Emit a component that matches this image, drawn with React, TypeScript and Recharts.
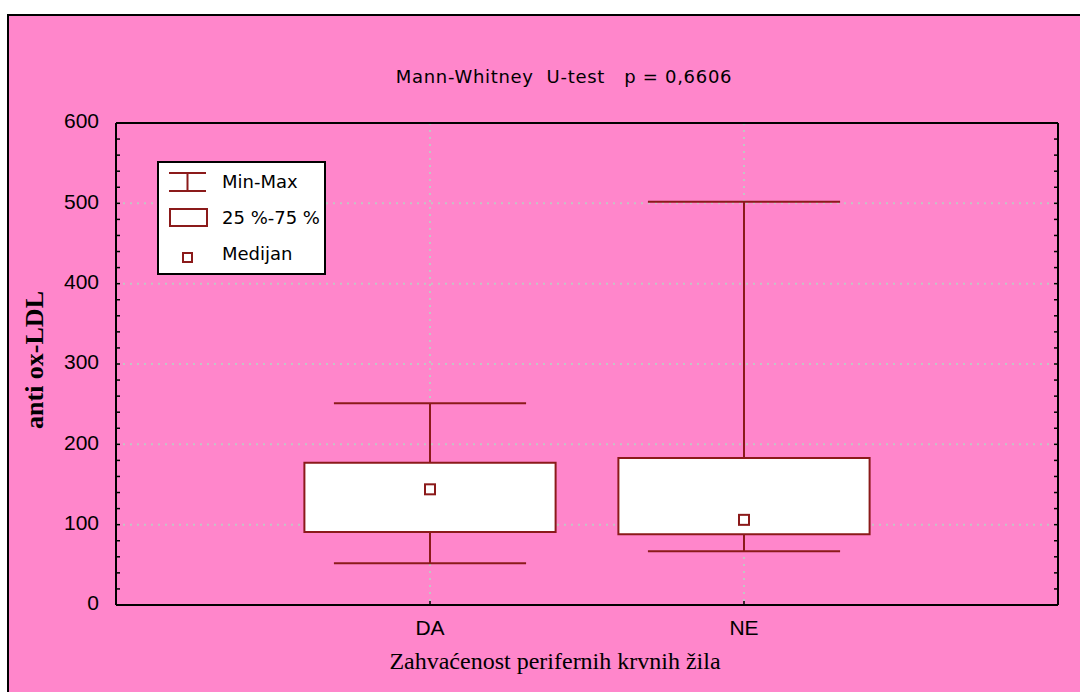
import React from 'react';
import {
  ComposedChart,
  XAxis,
  YAxis,
  Scatter,
  ReferenceLine,
  ReferenceArea,
  Legend,
  Label,
  CartesianGrid,
} from 'recharts';

// ---- data ----
const categories = ['DA', 'NE'];
const categoryPositions = [1, 2];
const minValues = [52, 67];
const q1Values = [91, 88];
const medianValues = [144, 106];
const q3Values = [177, 183];
const maxValues = [251, 502];

const yMajorTicks = [0, 100, 200, 300, 400, 500, 600];
const yMinorTicks = [
  0, 20, 40, 60, 80, 100, 120, 140, 160, 180, 200, 220, 240, 260, 280, 300,
  320, 340, 360, 380, 400, 420, 440, 460, 480, 500, 520, 540, 560, 580, 600,
];
const xDomain = [0, 3];
const yDomain = [0, 600];

const titleText = 'Mann-Whitney  U-test   p = 0,6606';
const xTitle = 'Zahvaćenost perifernih krvnih žila';
const yTitle = 'anti ox-LDL';
const legendLabels = ['Min-Max', '25 %-75 %', 'Medijan'];

// ---- styles ----
const PINK = '#FF86CB';
const DARK_RED = '#8B1A1A';
const GRID = '#C4C4C4';
const BOX_HALF = 0.4;
const CAP_HALF = 0.306;
const SANS = 'DejaVu Sans, sans-serif';
const TICK_FONT = 'Liberation Sans, Arial, sans-serif';
const SERIF = 'Liberation Serif, Times New Roman, serif';

const medianData = categories.map((c, i) => ({
  name: c,
  x: categoryPositions[i],
  y: medianValues[i],
}));

const majorOnly = (v: number) => (yMajorTicks.includes(v) ? String(v) : '');
const blank = () => '';

const MedianShape = (props: any) => {
  const { cx, cy } = props;
  return (
    <rect x={cx - 5} y={cy - 5} width={10} height={10} fill="#fff" stroke={DARK_RED} strokeWidth={2} />
  );
};

const HiddenShape = () => <g />;

const LegendContent = () => (
  <svg width={169} height={114} style={{ display: 'block' }}>
    <rect x={1} y={1} width={167} height={112} fill="#fff" stroke="#000" strokeWidth={2} />
    <g stroke={DARK_RED} strokeWidth={2}>
      <line x1={12} x2={49} y1={12} y2={12} />
      <line x1={12} x2={49} y1={30} y2={30} />
      <line x1={30.5} x2={30.5} y1={12} y2={30} />
    </g>
    <rect x={13} y={48} width={37} height={17} fill="#fff" stroke={DARK_RED} strokeWidth={2} />
    <rect x={26} y={92} width={9} height={9} fill="#fff" stroke={DARK_RED} strokeWidth={2} />
    <g fontFamily={SANS} fontSize={18} fill="#000">
      <text x={65} y={27}>{legendLabels[0]}</text>
      <text x={65} y={63} style={{ whiteSpace: 'pre' }}>{legendLabels[1]}</text>
      <text x={65} y={99}>{legendLabels[2]}</text>
    </g>
  </svg>
);

const TitleLabel = () => (
  <text
    x={564}
    y={83}
    textAnchor="middle"
    fontFamily={SANS}
    fontSize={18}
    letterSpacing={0.7}
    fill="#000"
    style={{ whiteSpace: 'pre' }}
    xmlSpace="preserve"
  >
    {titleText}
  </text>
);

const XTitleLabel = () => (
  <text x={555} y={669} textAnchor="middle" fontFamily={SERIF} fontSize={24} fill="#000">
    {xTitle}
  </text>
);

const YTitleLabel = () => (
  <text
    transform="translate(43, 360) rotate(-90)"
    textAnchor="middle"
    fontFamily={SERIF}
    fontWeight="bold"
    fontSize={26}
    fill="#000"
  >
    {yTitle}
  </text>
);

export default function App() {
  return (
    <div
      style={{
        position: 'fixed',
        left: 0,
        top: 0,
        width: 1080,
        height: 692,
        background: '#fff',
        overflow: 'hidden',
      }}
    >
      <div
        style={{
          position: 'absolute',
          left: 7,
          top: 14,
          width: 1100,
          height: 700,
          background: PINK,
          borderLeft: '2px solid #000',
          borderTop: '2px solid #000',
        }}
      />
      <div style={{ position: 'absolute', left: 0, top: 0 }}>
        <ComposedChart width={1080} height={692} margin={{ top: 122, right: 21, bottom: 47, left: 56 }}>
          <CartesianGrid
            xAxisId="b"
            yAxisId="g"
            stroke={GRID}
            strokeWidth={2}
            strokeDasharray="2 5"
          />
          <XAxis
            xAxisId="b"
            type="number"
            dataKey="x"
            domain={xDomain}
            ticks={categoryPositions}
            interval={0}
            tickFormatter={(v: number) => categories[categoryPositions.indexOf(v)] ?? ''}
            tickSize={-4}
            tickMargin={19}
            height={40}
            axisLine={{ stroke: '#000', strokeWidth: 2 }}
            tickLine={{ stroke: '#000', strokeWidth: 1.5 }}
            tick={{ fill: '#000', fontSize: 21, fontFamily: TICK_FONT }}
            allowDataOverflow
          >
            <Label content={XTitleLabel} />
          </XAxis>
          <XAxis
            xAxisId="t"
            orientation="top"
            type="number"
            dataKey="x"
            domain={xDomain}
            ticks={categoryPositions}
            tick={false}
            tickLine={false}
            height={1}
            axisLine={{ stroke: '#000', strokeWidth: 2 }}
            allowDataOverflow
          >
            <Label content={TitleLabel} />
          </XAxis>
          <YAxis
            yAxisId="l"
            type="number"
            dataKey="y"
            domain={yDomain}
            ticks={yMinorTicks}
            interval={0}
            tickFormatter={majorOnly}
            tickSize={-4}
            tickMargin={21}
            width={60}
            axisLine={{ stroke: '#000', strokeWidth: 2 }}
            tickLine={{ stroke: '#000', strokeWidth: 1.5 }}
            tick={{ fill: '#000', fontSize: 21, fontFamily: TICK_FONT, dy: -2 }}
            allowDataOverflow
          >
            <Label content={YTitleLabel} />
          </YAxis>
          <YAxis
            yAxisId="g"
            orientation="left"
            mirror
            type="number"
            dataKey="y"
            domain={yDomain}
            ticks={yMajorTicks}
            interval={0}
            tickFormatter={blank}
            tick={{ fontSize: 0, fill: 'none' }}
            tickLine={false}
            axisLine={false}
            width={1}
            allowDataOverflow
          />
          <YAxis
            yAxisId="r"
            orientation="right"
            type="number"
            dataKey="y"
            domain={yDomain}
            ticks={yMinorTicks}
            interval={0}
            tickFormatter={blank}
            tickSize={-4}
            width={1}
            axisLine={{ stroke: '#000', strokeWidth: 2 }}
            tickLine={{ stroke: '#000', strokeWidth: 1.5 }}
            tick={{ fill: '#000', fontSize: 10 }}
            allowDataOverflow
          />

          {categoryPositions.map((p, i) => (
            <ReferenceLine
              key={'wu' + i}
              xAxisId="b"
              yAxisId="l"
              segment={[
                { x: p, y: q3Values[i] },
                { x: p, y: maxValues[i] },
              ]}
              stroke={DARK_RED}
              strokeWidth={2}
            />
          ))}
          {categoryPositions.map((p, i) => (
            <ReferenceLine
              key={'wl' + i}
              xAxisId="b"
              yAxisId="l"
              segment={[
                { x: p, y: minValues[i] },
                { x: p, y: q1Values[i] },
              ]}
              stroke={DARK_RED}
              strokeWidth={2}
            />
          ))}
          {categoryPositions.map((p, i) => (
            <ReferenceLine
              key={'cmax' + i}
              xAxisId="b"
              yAxisId="l"
              segment={[
                { x: p - CAP_HALF, y: maxValues[i] },
                { x: p + CAP_HALF, y: maxValues[i] },
              ]}
              stroke={DARK_RED}
              strokeWidth={2}
            />
          ))}
          {categoryPositions.map((p, i) => (
            <ReferenceLine
              key={'cmin' + i}
              xAxisId="b"
              yAxisId="l"
              segment={[
                { x: p - CAP_HALF, y: minValues[i] },
                { x: p + CAP_HALF, y: minValues[i] },
              ]}
              stroke={DARK_RED}
              strokeWidth={2}
            />
          ))}
          {categoryPositions.map((p, i) => (
            <ReferenceArea
              key={'box' + i}
              xAxisId="b"
              yAxisId="l"
              x1={p - BOX_HALF}
              x2={p + BOX_HALF}
              y1={q1Values[i]}
              y2={q3Values[i]}
              fill="#fff"
              fillOpacity={1}
              stroke={DARK_RED}
              strokeWidth={2}
            />
          ))}

          <Scatter
            xAxisId="t"
            yAxisId="r"
            data={medianData}
            dataKey="y"
            shape={HiddenShape}
            isAnimationActive={false}
            legendType="none"
          />
          <Scatter
            xAxisId="t"
            yAxisId="g"
            data={medianData}
            dataKey="y"
            shape={HiddenShape}
            isAnimationActive={false}
            legendType="none"
          />
          <Scatter
            xAxisId="b"
            yAxisId="l"
            data={medianData}
            dataKey="y"
            shape={MedianShape}
            isAnimationActive={false}
          />

          <Legend
            content={LegendContent}
            layout="horizontal"
            verticalAlign="middle"
            align="center"
            wrapperStyle={{ left: 157, top: 161, width: 169, height: 114 }}
          />
        </ComposedChart>
      </div>
    </div>
  );
}
